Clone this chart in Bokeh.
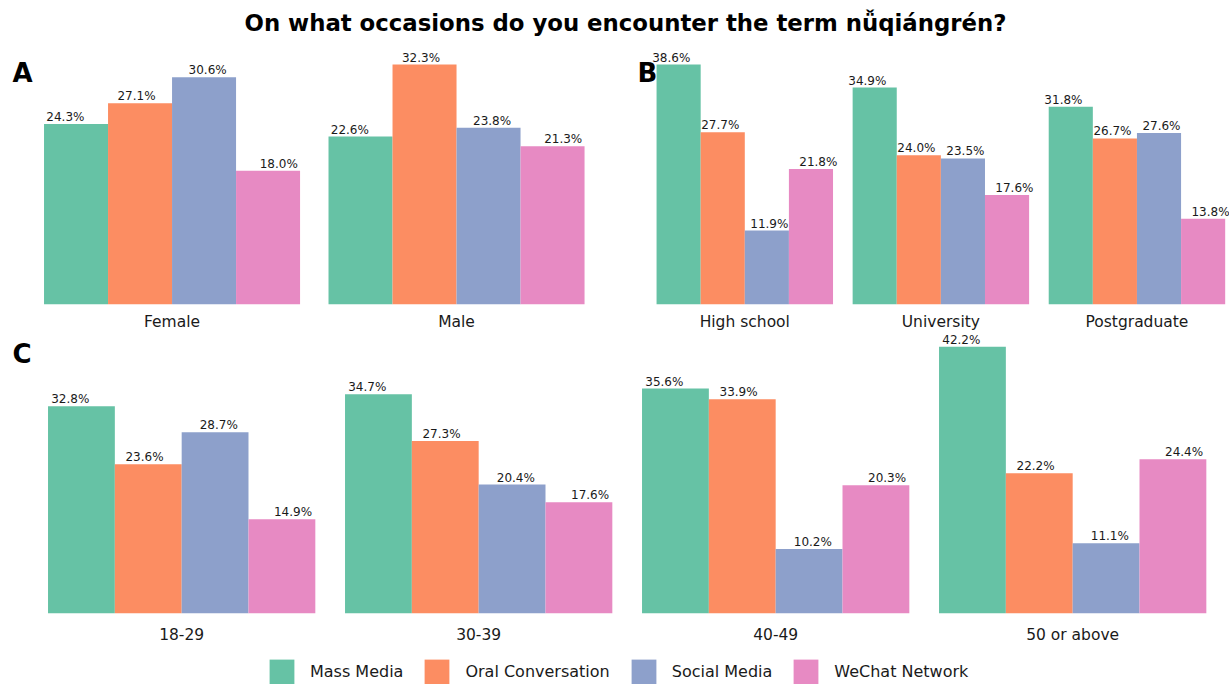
from bokeh.plotting import figure
from bokeh.models import (ColumnDataSource, Range1d, Label, Legend, LegendItem,
                          FixedTicker)
from bokeh.transform import dodge
from bokeh.layouts import column, row
from bokeh.core.properties import value
from bokeh.embed import file_html
from bokeh.resources import INLINE

TITLE = "On what occasions do you encounter the term nǚqiángrén?"
SERIES = ["Mass Media", "Oral Conversation", "Social Media", "WeChat Network"]
COLORS = ["#66C2A5", "#FC8D62", "#8DA0CB", "#E78AC3"]

# Panel A: gender
A_groups = ["Female", "Male"]
A_mass = [24.3, 22.6]
A_oral = [27.1, 32.3]
A_social = [30.6, 23.8]
A_wechat = [18.0, 21.3]

# Panel B: education
B_groups = ["High school", "University", "Postgraduate"]
B_mass = [38.6, 34.9, 31.8]
B_oral = [27.7, 24.0, 26.7]
B_social = [11.9, 23.5, 27.6]
B_wechat = [21.8, 17.6, 13.8]

# Panel C: age
C_groups = ["18-29", "30-39", "40-49", "50 or above"]
C_mass = [32.8, 34.7, 35.6, 42.2]
C_oral = [23.6, 27.3, 33.9, 22.2]
C_social = [28.7, 20.4, 10.2, 11.1]
C_wechat = [14.9, 17.6, 20.3, 24.4]

FONT = "DejaVu Sans"
BAR_W = 0.225
LAB_W = 0.25


def blank(width, height):
    p = figure(width=width, height=height, x_range=Range1d(0, 1), y_range=Range1d(0, 1),
               output_backend="svg", toolbar_location=None, x_axis_location=None,
               y_axis_location=None, min_border=0, title=None)
    p.outline_line_color = None
    p.grid.visible = False
    return p


def make_source(series_vals):
    data = {"idx": list(range(len(series_vals[0])))}
    for i, vals in enumerate(series_vals):
        data[f"s{i}"] = vals
        data[f"l{i}"] = [f"{v:.1f}%" for v in vals]
    return ColumnDataSource(data)


def panel(groups, series_vals, width, height, xr, mb, standoff):
    src = make_source(series_vals)
    idx = list(range(len(groups)))
    ymax = max(max(v) for v in series_vals) * 1.05
    p = figure(x_range=Range1d(*xr), y_range=Range1d(0, ymax), width=width, height=height,
               output_backend="svg", toolbar_location=None, y_axis_location=None,
               title=None, min_border_left=mb[0], min_border_right=mb[1],
               min_border_top=mb[2], min_border_bottom=mb[3])
    p.outline_line_color = None
    p.xgrid.visible = False
    p.ygrid.visible = False
    ax = p.xaxis[0]
    ax.ticker = FixedTicker(ticks=idx)
    ax.major_label_overrides = {i: g for i, g in zip(idx, groups)}
    ax.axis_line_color = None
    ax.major_tick_line_color = None
    ax.minor_tick_line_color = None
    ax.major_tick_out = 0
    ax.major_tick_in = 0
    ax.minor_tick_out = 0
    ax.major_label_standoff = standoff
    ax.major_label_text_font = FONT
    ax.major_label_text_font_size = "15.5px"
    ax.major_label_text_color = "#1a1a1a"
    for i in range(4):
        p.vbar(x=dodge("idx", (i - 1.5) * BAR_W), top=f"s{i}", width=BAR_W, source=src,
               fill_color=COLORS[i], line_color=None)
        p.text(x=dodge("idx", (i - 1.5) * LAB_W), y=f"s{i}", text=f"l{i}", source=src,
               text_align="center", text_baseline="bottom", text_font=value(FONT),
               text_font_size="12px", text_color="#1a1a1a")
    return p, src


def tag(p, txt, x, y):
    p.add_layout(Label(x=x, y=y, x_units="screen", y_units="screen", text=txt,
                       text_font=FONT, text_font_style="bold", text_font_size="26px",
                       text_color="black", text_align="left", text_baseline="middle"))


# title strip
pT = blank(1229, 42)
pT.add_layout(Label(x=625, y=20, x_units="screen", y_units="screen", text=TITLE,
                    text_font=FONT, text_font_style="bold", text_font_size="22.8px",
                    text_color="black", text_align="center", text_baseline="middle"))

pA, _ = panel(A_groups, [A_mass, A_oral, A_social, A_wechat], 629, 291,
              (-0.603, 1.608), (0, 0, 10, 29), 8)
tag(pA, "A", 12, 232)

pB, _ = panel(B_groups, [B_mass, B_oral, B_social, B_wechat], 600, 291,
              (-0.588, 2.472), (0, 0, 10, 29), 8)
tag(pB, "B", 8, 232)

pC, srcC = panel(C_groups, [C_mass, C_oral, C_social, C_wechat], 1229, 317,
                 (-0.610, 3.528), (0, 0, 0, 37), 12)
tag(pC, "C", 12, 260)

# legend strip (hidden renderers reuse panel C's data, only their swatches show)
pL = blank(1229, 34)
swatches = [pL.vbar(x="idx", top=f"s{i}", width=BAR_W, source=srcC, fill_color=c,
                    line_color=None, visible=False) for i, c in enumerate(COLORS)]
legend = Legend(items=[LegendItem(label=s, renderers=[r]) for s, r in zip(SERIES, swatches)],
                location=(266, -3), orientation="horizontal",
                glyph_width=31, glyph_height=31, label_standoff=13, spacing=18,
                padding=0, margin=0, border_line_color=None, background_fill_alpha=0,
                label_text_font=FONT, label_text_font_size="16px",
                label_text_color="#1a1a1a")
pL.add_layout(legend)

layout = column(pT, row(pA, pB), pC, pL)
open("out.html", "w").write(file_html(layout, INLINE))
